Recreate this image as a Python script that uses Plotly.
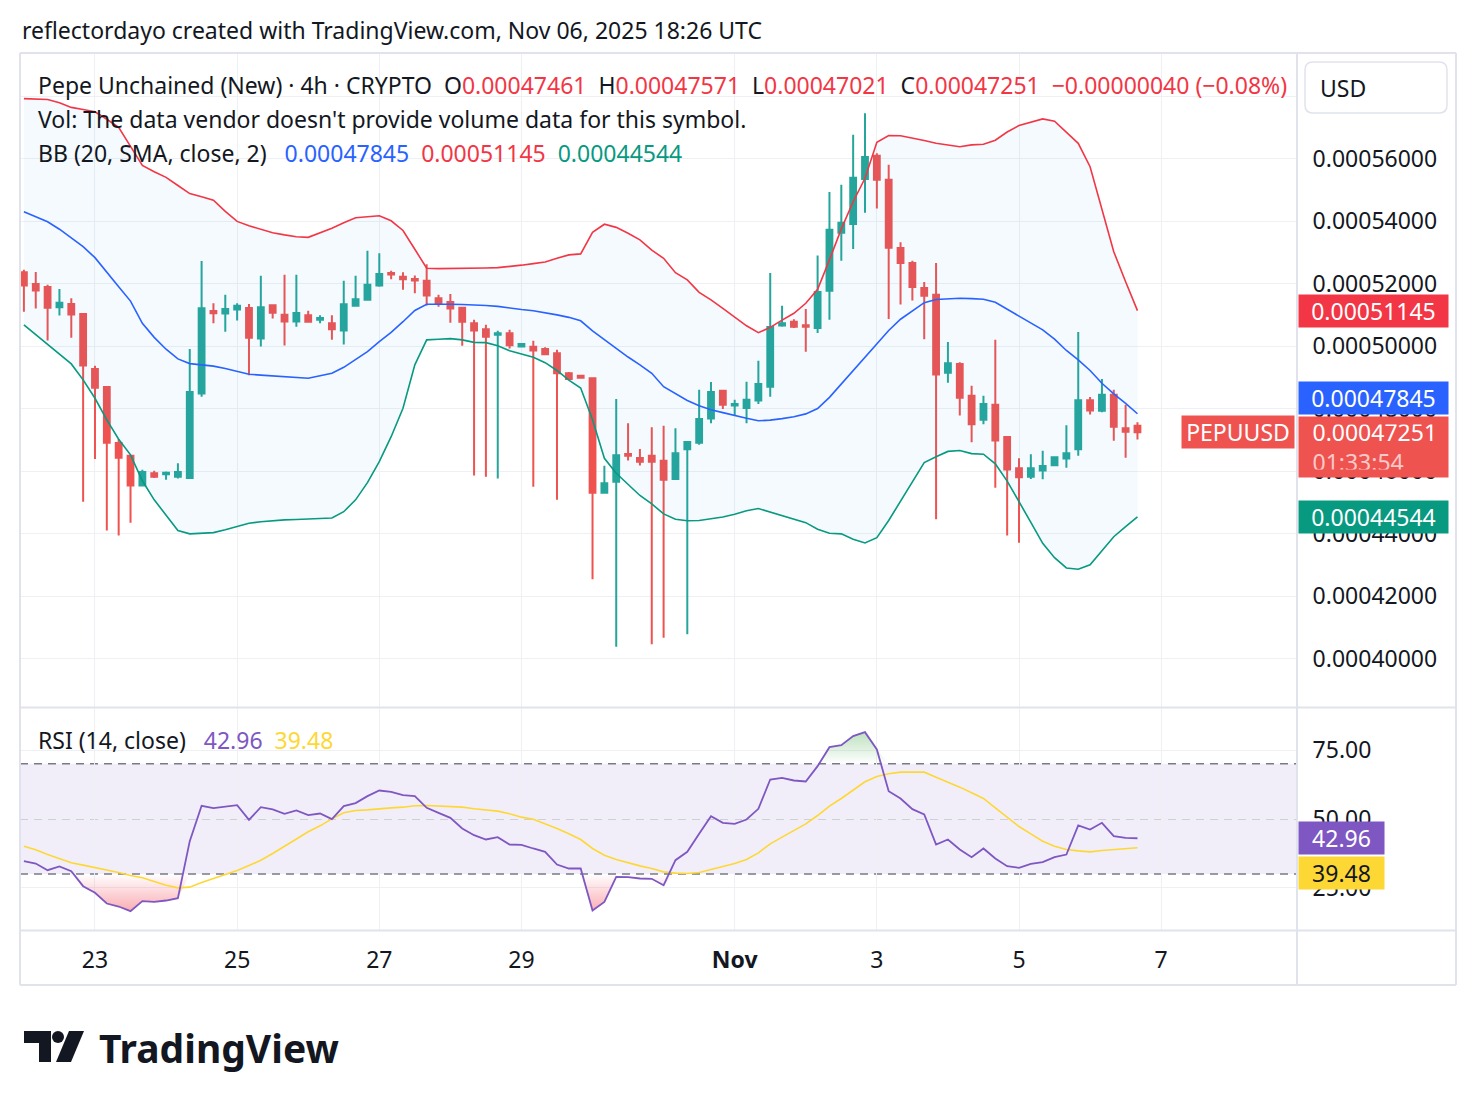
import numpy as np
import pandas as pd
import plotly.graph_objects as go

# ---------------- data (prices in units of 1e-5 USD) ----------------
PRICE_UNIT = 1e-5
times = pd.date_range("2025-10-22 00:00", periods=95, freq="4h")

open_e5 = [52.37, 52.00, 51.90, 51.25, 51.36, 51.04, 49.28, 48.70, 46.91, 46.50,
           45.55, 45.94, 45.91, 45.83, 45.79, 48.49, 51.13, 51.05, 51.18, 51.23,
           50.25, 51.32, 51.01, 50.80, 51.00, 50.85, 50.74, 50.51, 51.30, 51.49,
           51.95, 52.35, 52.23, 52.16, 52.10, 51.54, 51.42, 51.24, 50.74, 50.55,
           50.37, 50.42, 50.00, 49.99, 49.92, 49.78, 49.14, 49.06, 48.98, 45.32,
           45.67, 46.56, 46.43, 46.50, 46.34, 45.76, 46.71, 46.92, 47.69, 48.58,
           48.11, 48.03, 48.27, 48.71, 50.67, 50.79, 50.68, 50.59, 51.78, 53.64,
           53.92, 55.36, 56.10, 55.33, 53.15, 52.67, 51.87, 51.65, 49.16, 49.44,
           48.42, 47.65, 48.13, 47.10, 46.10, 45.83, 46.03, 46.20, 46.41, 46.71,
           48.28, 47.94, 48.45, 47.38, 47.461]
high_e5 = [52.45, 52.38, 51.97, 51.84, 51.54, 51.07, 49.38, 48.70, 47.04, 46.53,
           46.05, 46.02, 46.00, 46.26, 49.92, 52.73, 51.38, 51.65, 51.38, 51.36,
           52.26, 51.32, 52.29, 52.29, 51.14, 51.00, 51.00, 52.10, 52.26, 53.06,
           52.98, 52.42, 52.37, 52.27, 52.63, 51.65, 51.68, 51.27, 50.85, 50.69,
           50.50, 50.53, 50.10, 50.18, 49.97, 49.89, 49.18, 49.08, 48.98, 46.18,
           48.32, 47.54, 46.72, 47.41, 47.46, 47.38, 46.94, 48.61, 48.86, 48.61,
           48.29, 48.87, 49.54, 52.35, 51.30, 50.87, 51.20, 52.91, 54.94, 55.17,
           56.77, 57.46, 56.18, 55.81, 53.33, 52.74, 52.06, 52.67, 50.14, 49.49,
           48.74, 48.42, 50.21, 47.13, 46.42, 46.55, 46.66, 46.45, 47.48, 50.46,
           48.38, 48.96, 48.61, 48.13, 47.571]
low_e5 = [51.11, 51.21, 50.19, 50.99, 50.28, 45.03, 46.40, 44.11, 43.95, 44.36,
          45.55, 45.79, 45.73, 45.77, 45.77, 48.39, 50.74, 50.47, 50.83, 49.08,
          50.00, 50.89, 50.03, 50.63, 50.76, 50.74, 50.21, 50.06, 51.27, 51.47,
          51.91, 52.15, 51.81, 51.70, 51.31, 51.27, 50.76, 50.02, 45.87, 45.83,
          45.77, 49.93, 49.97, 45.51, 49.73, 45.09, 48.93, 48.98, 42.55, 45.32,
          40.39, 46.35, 46.19, 40.47, 40.68, 45.73, 40.79, 46.85, 47.54, 48.00,
          47.78, 47.54, 48.16, 48.39, 50.63, 50.59, 49.83, 50.43, 50.85, 52.74,
          53.12, 54.28, 54.41, 50.88, 51.34, 51.47, 50.23, 44.47, 48.84, 47.79,
          46.93, 47.51, 45.48, 43.95, 43.72, 45.76, 45.75, 46.20, 46.12, 46.50,
          47.82, 47.89, 46.98, 46.44, 47.021]
close_e5 = [51.95, 51.79, 51.24, 51.40, 51.02, 49.39, 48.68, 46.92, 46.44, 45.55,
            45.98, 45.83, 45.96, 45.98, 48.54, 51.22, 51.06, 51.20, 51.30, 50.28,
            51.25, 51.08, 50.80, 51.07, 50.79, 50.91, 50.55, 51.35, 51.51, 51.97,
            52.32, 52.30, 52.15, 52.11, 51.63, 51.38, 51.21, 50.79, 50.51, 50.31,
            50.42, 50.04, 50.08, 49.87, 49.75, 49.14, 48.96, 49.00, 45.32, 45.62,
            46.52, 46.50, 46.31, 46.31, 45.73, 46.58, 46.94, 47.68, 48.54, 48.13,
            48.16, 48.29, 48.80, 50.62, 50.74, 50.63, 50.63, 51.74, 53.73, 53.96,
            55.40, 56.06, 55.33, 53.16, 52.67, 51.90, 51.62, 49.10, 49.46, 48.36,
            47.51, 48.16, 46.99, 46.06, 45.81, 46.10, 46.17, 46.45, 46.58, 48.28,
            47.95, 48.45, 47.43, 47.27, 47.251]

bb_upper_e5 = [57.93, 57.92, 57.90, 57.80, 57.65, 57.58, 57.51, 57.27, 57.01, 56.40,
               55.79, 55.59, 55.41, 55.15, 54.89, 54.79, 54.68, 54.32, 54.00, 53.86,
               53.75, 53.64, 53.57, 53.51, 53.49, 53.64, 53.78, 53.96, 54.12, 54.15,
               54.18, 54.02, 53.71, 53.11, 52.50, 52.49, 52.49, 52.49, 52.50, 52.51,
               52.52, 52.55, 52.60, 52.65, 52.70, 52.82, 52.93, 52.96, 53.65, 53.91,
               53.81, 53.62, 53.41, 53.08, 52.82, 52.36, 52.13, 51.73, 51.49, 51.22,
               50.93, 50.66, 50.44, 50.61, 50.84, 51.06, 51.38, 51.83, 52.77, 53.76,
               54.63, 55.38, 56.53, 56.75, 56.74, 56.67, 56.59, 56.50, 56.44, 56.39,
               56.45, 56.47, 56.60, 56.86, 57.07, 57.18, 57.28, 57.21, 56.84, 56.50,
               55.75, 54.37, 53.03, 52.07, 51.145]
bb_basis_e5 = [54.31, 54.15, 53.99, 53.75, 53.48, 53.19, 52.84, 52.39, 51.91, 51.45,
               50.74, 50.29, 49.91, 49.60, 49.45, 49.41, 49.37, 49.29, 49.19, 49.11,
               49.08, 49.06, 49.03, 49.01, 48.98, 49.06, 49.14, 49.33, 49.57, 49.83,
               50.15, 50.45, 50.79, 51.15, 51.35, 51.36, 51.35, 51.34, 51.33, 51.31,
               51.28, 51.22, 51.18, 51.14, 51.08, 51.01, 50.93, 50.82, 50.50, 50.21,
               49.94, 49.66, 49.41, 49.14, 48.71, 48.50, 48.27, 48.10, 47.97, 47.88,
               47.78, 47.70, 47.62, 47.64, 47.69, 47.75, 47.84, 48.01, 48.37, 48.80,
               49.23, 49.65, 50.06, 50.51, 50.87, 51.15, 51.40, 51.50, 51.53, 51.54,
               51.53, 51.51, 51.41, 51.19, 50.98, 50.77, 50.53, 50.23, 49.87, 49.57,
               49.23, 48.82, 48.48, 48.18, 47.845]
bb_lower_e5 = [50.69, 50.37, 50.05, 49.76, 49.44, 48.93, 48.34, 47.65, 47.03, 46.53,
               45.70, 45.09, 44.61, 44.11, 44.00, 44.01, 44.04, 44.13, 44.23, 44.34,
               44.39, 44.43, 44.45, 44.46, 44.47, 44.48, 44.51, 44.71, 45.09, 45.64,
               46.31, 47.11, 48.02, 49.41, 50.21, 50.23, 50.25, 50.21, 50.13, 50.12,
               50.02, 49.86, 49.76, 49.65, 49.48, 49.23, 48.92, 48.67, 47.65, 46.42,
               45.94, 45.57, 45.23, 44.96, 44.64, 44.47, 44.42, 44.43, 44.48, 44.54,
               44.63, 44.74, 44.81, 44.70, 44.58, 44.46, 44.36, 44.15, 44.02, 44.00,
               43.83, 43.71, 43.88, 44.43, 45.06, 45.67, 46.28, 46.47, 46.64, 46.67,
               46.57, 46.55, 46.24, 45.69, 45.01, 44.37, 43.70, 43.24, 42.91, 42.87,
               43.01, 43.47, 43.91, 44.23, 44.544]

rsi = [34.62, 33.77, 31.35, 32.68, 30.98, 25.53, 23.11, 19.23, 18.14, 16.44,
       20.08, 19.83, 20.32, 21.17, 41.89, 54.74, 53.89, 54.38, 54.98, 49.65,
       54.25, 53.41, 51.83, 53.04, 51.35, 51.95, 49.89, 54.62, 55.71, 58.25,
       60.31, 59.83, 58.62, 58.25, 54.01, 52.19, 50.38, 46.50, 44.07, 42.50,
       43.35, 40.68, 40.56, 39.23, 38.01, 33.41, 31.95, 31.95, 16.68, 19.83,
       28.92, 28.80, 28.32, 28.20, 25.89, 34.98, 38.01, 44.56, 50.98, 48.56,
       48.19, 49.77, 53.65, 64.31, 64.92, 63.95, 63.59, 69.16, 76.07, 76.80,
       80.07, 81.52, 75.22, 60.07, 57.41, 53.53, 51.59, 40.68, 42.50, 38.86,
       36.07, 39.23, 35.59, 32.80, 32.20, 33.65, 34.26, 36.07, 37.04, 47.59,
       46.13, 48.56, 43.71, 43.10, 42.96]
rsi_ma = [40.07, 38.74, 37.04, 35.59, 34.01, 33.17, 32.32, 31.47, 30.50, 29.41,
          28.56, 27.23, 25.89, 24.92, 25.17, 26.86, 28.32, 29.65, 31.23, 33.04,
          34.98, 37.41, 40.07, 42.86, 45.29, 47.47, 50.01, 52.19, 53.04, 53.28,
          53.77, 54.01, 54.25, 54.74, 54.86, 54.74, 54.62, 54.25, 53.65, 53.16,
          52.80, 51.83, 50.62, 49.89, 48.32, 46.50, 44.56, 42.50, 39.23, 36.80,
          35.23, 34.01, 32.92, 31.95, 30.74, 30.26, 30.14, 30.50, 31.47, 32.68,
          33.77, 35.23, 37.65, 40.92, 43.35, 45.77, 48.19, 51.22, 54.62, 57.41,
          60.31, 63.47, 65.40, 66.37, 66.98, 67.10, 66.98, 65.16, 63.47, 61.53,
          59.47, 57.41, 54.01, 50.62, 47.22, 44.56, 41.89, 40.07, 38.86, 38.38,
          38.01, 38.50, 38.74, 39.10, 39.48]

price_ticks = [0.00040, 0.00042, 0.00044, 0.00046, 0.00048, 0.00050, 0.00052, 0.00054, 0.00056, 0.00058]
price_tick_text = ["0.00040000", "0.00042000", "0.00044000", "0.00046000", "0.00048000",
                   "0.00050000", "0.00052000", "0.00054000", "0.00056000", ""]
rsi_ticks = [25, 50, 75]
rsi_tick_text = ["25.00", "50.00", "75.00"]
date_ticks = ["2025-10-23", "2025-10-25", "2025-10-27", "2025-10-29",
              "2025-11-01", "2025-11-03", "2025-11-05", "2025-11-07"]
date_tick_text = ["23", "25", "27", "29", "<b>Nov</b>", "3", "5", "7"]

# ---------------- styling ----------------
UP, DOWN = "#26a69a", "#ef5350"
C_UPPER, C_BASIS, C_LOWER = "#f23645", "#2962ff", "#089981"
C_RSI, C_MA = "#7e57c2", "#fdd835"
TXT = "#131722"
GRID = "#eef0f4"
BORDER = "#e0e3eb"
FONT = "Noto Sans"
FS = 23

o = np.array(open_e5) * PRICE_UNIT
h = np.array(high_e5) * PRICE_UNIT
l = np.array(low_e5) * PRICE_UNIT
c = np.array(close_e5) * PRICE_UNIT
up = np.array(bb_upper_e5) * PRICE_UNIT
mid = np.array(bb_basis_e5) * PRICE_UNIT
lo = np.array(bb_lower_e5) * PRICE_UNIT
rsi_a = np.array(rsi)

fig = go.Figure()

# BB fill (below candles)
fig.add_trace(go.Scatter(x=times, y=up, mode="lines", line=dict(width=0, color=C_UPPER),
                         hoverinfo="skip", xaxis="x", yaxis="y"))
fig.add_trace(go.Scatter(x=times, y=lo, mode="lines", line=dict(width=0, color=C_LOWER),
                         fill="tonexty", fillcolor="rgba(33,150,243,0.05)",
                         hoverinfo="skip", xaxis="x", yaxis="y"))

fig.add_trace(go.Candlestick(
    x=times, open=o, high=h, low=l, close=c,
    increasing=dict(line=dict(color=UP, width=2), fillcolor=UP),
    decreasing=dict(line=dict(color=DOWN, width=2), fillcolor=DOWN),
    whiskerwidth=0, hoverinfo="skip", xaxis="x", yaxis="y"))

fig.add_trace(go.Scatter(x=times, y=up, mode="lines", line=dict(width=1.6, color=C_UPPER),
                         hoverinfo="skip", xaxis="x", yaxis="y"))
fig.add_trace(go.Scatter(x=times, y=mid, mode="lines", line=dict(width=1.6, color=C_BASIS),
                         hoverinfo="skip", xaxis="x", yaxis="y"))
fig.add_trace(go.Scatter(x=times, y=lo, mode="lines", line=dict(width=1.6, color=C_LOWER),
                         hoverinfo="skip", xaxis="x", yaxis="y"))

# RSI overbought / oversold gradient fills
fig.add_trace(go.Scatter(x=times, y=[70] * len(times), mode="lines", line=dict(width=0),
                         hoverinfo="skip", xaxis="x2", yaxis="y2"))
fig.add_trace(go.Scatter(x=times, y=np.maximum(rsi_a, 70), mode="lines", line=dict(width=0),
                         fill="tonexty",
                         fillgradient=dict(type="vertical", start=70, stop=84,
                                           colorscale=[[0, "rgba(76,175,80,0)"], [1, "rgba(76,175,80,0.45)"]]),
                         hoverinfo="skip", xaxis="x2", yaxis="y2"))
fig.add_trace(go.Scatter(x=times, y=[30] * len(times), mode="lines", line=dict(width=0),
                         hoverinfo="skip", xaxis="x2", yaxis="y2"))
fig.add_trace(go.Scatter(x=times, y=np.minimum(rsi_a, 30), mode="lines", line=dict(width=0),
                         fill="tonexty",
                         fillgradient=dict(type="vertical", start=15, stop=30,
                                           colorscale=[[0, "rgba(242,54,69,0.45)"], [1, "rgba(242,54,69,0)"]]),
                         hoverinfo="skip", xaxis="x2", yaxis="y2"))
fig.add_trace(go.Scatter(x=times, y=rsi_ma, mode="lines", line=dict(width=1.6, color=C_MA),
                         hoverinfo="skip", xaxis="x2", yaxis="y2"))
fig.add_trace(go.Scatter(x=times, y=rsi, mode="lines", line=dict(width=1.8, color=C_RSI),
                         hoverinfo="skip", xaxis="x2", yaxis="y2"))

# ---------------- layout geometry (pixel helpers) ----------------
L, R, T, B = 20, 1297, 53, 930
W, H = R - L, B - T


def px_x(px):
    return (px - L) / W


def px_y(py):
    return (B - py) / H


x_range = ["2025-10-21 22:41", "2025-11-08 21:52"]

axis_common = dict(showline=False, zeroline=False, gridcolor=GRID, gridwidth=1)

fig.update_layout(
    width=1476, height=1106,
    margin=dict(l=L, r=1476 - R, t=T, b=1106 - B),
    paper_bgcolor="white", plot_bgcolor="white",
    showlegend=False, hovermode=False,
    font=dict(family=FONT, color=TXT, size=FS),
    xaxis=dict(domain=[0, 1], anchor="y", range=x_range, type="date",
               tickvals=date_ticks, ticktext=date_tick_text, showticklabels=False,
               rangeslider=dict(visible=False), **axis_common),
    xaxis2=dict(domain=[0, 1], anchor="y2", matches="x", type="date",
                tickvals=date_ticks, ticktext=date_tick_text, showticklabels=True,
                ticks="outside", ticklen=9, tickcolor="rgba(0,0,0,0)",
                tickfont=dict(size=FS, color=TXT), **axis_common),
    yaxis=dict(domain=[px_y(707), 1], anchor="x", side="right",
               range=[0.0003846, 0.0005939], tickvals=price_ticks, ticktext=price_tick_text,
               ticks="outside", ticklen=10, tickcolor="rgba(0,0,0,0)",
               tickfont=dict(size=FS, color=TXT), **axis_common),
    yaxis2=dict(domain=[0, px_y(708)], anchor="x2", side="right",
                range=[9.6, 90.3], tickvals=rsi_ticks, ticktext=rsi_tick_text,
                ticks="outside", ticklen=10, tickcolor="rgba(0,0,0,0)",
                tickfont=dict(size=FS, color=TXT), **axis_common),
)

shapes = []
# RSI background band and level lines
shapes.append(dict(type="rect", xref="paper", yref="y2", x0=0, x1=1, y0=30, y1=70,
                   fillcolor="rgba(126,87,194,0.1)", line=dict(width=0), layer="below"))
for lvl, col in [(70, "#787b86"), (50, "rgba(120,123,134,0.55)"), (30, "#787b86")]:
    shapes.append(dict(type="line", xref="paper", yref="y2", x0=0, x1=1, y0=lvl, y1=lvl,
                       line=dict(color=col, width=1.5, dash="8px,6px"), layer="below"))
# frame lines
frame = [
    (px_x(20), px_y(53), px_x(1456), px_y(53)),
    (px_x(20), px_y(985), px_x(1456), px_y(985)),
    (px_x(20), px_y(53), px_x(20), px_y(985)),
    (px_x(1456), px_y(53), px_x(1456), px_y(985)),
    (px_x(1297), px_y(53), px_x(1297), px_y(985)),
    (px_x(20), px_y(707.5), px_x(1456), px_y(707.5)),
    (px_x(20), px_y(930.5), px_x(1456), px_y(930.5)),
]
for x0, y0, x1, y1 in frame:
    shapes.append(dict(type="line", xref="paper", yref="paper", x0=x0, y0=y0, x1=x1, y1=y1,
                       line=dict(color=BORDER, width=2), layer="above"))


def rrect(x0, y0, x1, y1, r):
    # rounded rect path in pixel coords -> paper coords
    rx, ry = r / W, r / H
    X0, X1, Y0, Y1 = px_x(x0), px_x(x1), px_y(y0), px_y(y1)
    return (f"M {X0 + rx},{Y0} L {X1 - rx},{Y0} Q {X1},{Y0} {X1},{Y0 - ry} "
            f"L {X1},{Y1 + ry} Q {X1},{Y1} {X1 - rx},{Y1} L {X0 + rx},{Y1} "
            f"Q {X0},{Y1} {X0},{Y1 + ry} L {X0},{Y0 - ry} Q {X0},{Y0} {X0 + rx},{Y0} Z")


shapes.append(dict(type="path", xref="paper", yref="paper", path=rrect(1305, 62, 1447, 113, 8),
                   fillcolor="white", line=dict(color=BORDER, width=1.5), layer="above"))


def poly(pts):
    return "M " + " L ".join(f"{px_x(x)},{px_y(y)}" for x, y in pts) + " Z"


# TradingView logo
shapes.append(dict(type="path", xref="paper", yref="paper",
                   path=poly([(24, 1031), (51, 1031), (51, 1062), (39, 1062), (39, 1043), (24, 1043)]),
                   fillcolor=TXT, line=dict(width=0)))
shapes.append(dict(type="circle", xref="paper", yref="paper",
                   x0=px_x(52), x1=px_x(64), y0=px_y(1031), y1=px_y(1043),
                   fillcolor=TXT, line=dict(width=0)))
shapes.append(dict(type="path", xref="paper", yref="paper",
                   path=poly([(69, 1031), (84, 1031), (71, 1062), (56, 1062)]),
                   fillcolor=TXT, line=dict(width=0)))
fig.update_layout(shapes=shapes)


def span(txt, col):
    return f"<span style='color:{col}'>{txt}</span>"


SP = "&nbsp;&nbsp;"
SP3 = "&nbsp;&nbsp;&nbsp;"
ann = []


def text_ann(px, py, text, size=FS, anchor="left", **kw):
    ann.append(dict(xref="paper", yref="paper", x=px_x(px), y=px_y(py), text=text,
                    showarrow=False, xanchor=anchor, yanchor="middle",
                    font=dict(size=size, color=TXT, family=FONT), **kw))


text_ann(20, 30, "reflectordayo created with TradingView.com, Nov 06, 2025 18:26 UTC")
text_ann(36, 85, "Pepe Unchained (New) · 4h · CRYPTO" + SP
         + "O" + span("0.00047461", C_UPPER) + SP
         + "H" + span("0.00047571", C_UPPER) + SP
         + "L" + span("0.00047021", C_UPPER) + SP
         + "C" + span("0.00047251", C_UPPER) + SP
         + span("−0.00000040 (−0.08%)", C_UPPER))
text_ann(36, 119, "Vol: The data vendor doesn't provide volume data for this symbol.")
text_ann(36, 153, "BB (20, SMA, close, 2)" + SP3 + span("0.00047845", C_BASIS) + SP
         + span("0.00051145", C_UPPER) + SP + span("0.00044544", C_LOWER))
text_ann(36, 740, "RSI (14, close)" + SP3 + span("42.96", C_RSI) + SP + span("39.48", C_MA))
text_ann(1343, 88, "USD", anchor="center")
text_ann(97, 1047, "<b>TradingView</b>", size=39)


def price_box(yval, yref, text, bg, fg="white", width=141, height=24, pad=4,
              yanchor="middle", yshift=0, align="center", xanchor="left", xshift=1):
    ann.append(dict(xref="paper", yref=yref, x=1, y=yval, text=text, showarrow=False,
                    xanchor=xanchor, yanchor=yanchor, yshift=yshift, xshift=xshift,
                    bgcolor=bg, borderpad=pad, width=width, height=height, align=align,
                    font=dict(size=FS, color=fg, family=FONT)))


price_box(bb_upper_e5[-1] * PRICE_UNIT, "y", "0.00051145", C_UPPER)
price_box(bb_basis_e5[-1] * PRICE_UNIT, "y", "0.00047845", C_BASIS, yanchor="bottom", yshift=-1)
price_box(bb_lower_e5[-1] * PRICE_UNIT, "y", "0.00044544", C_LOWER)
price_box(close_e5[-1] * PRICE_UNIT, "y",
          "&nbsp;0.00047251<br>&nbsp;" + span("01:33:54", "rgba(255,255,255,0.7)"),
          DOWN, width=134, height=45, pad=7.5, yanchor="top", yshift=16, align="left")
price_box(close_e5[-1] * PRICE_UNIT, "y", "PEPUUSD", DOWN, width=104, xanchor="right", xshift=-2)
price_box(rsi[-1], "y2", "42.96", C_RSI, width=77)
price_box(rsi_ma[-1], "y2", "39.48", C_MA, fg=TXT, width=77, yanchor="top", yshift=-8.4)

fig.update_layout(annotations=ann)

fig.write_html("out.html")
